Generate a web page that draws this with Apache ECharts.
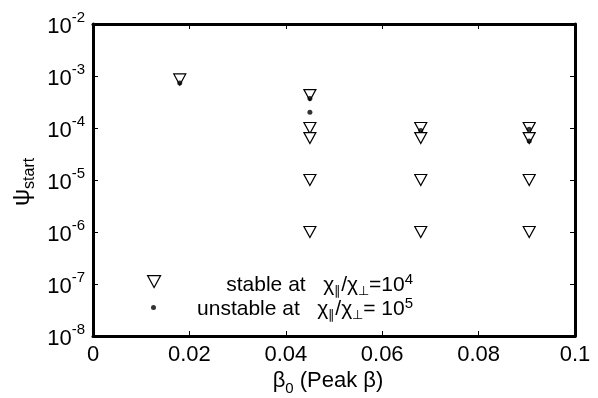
<!DOCTYPE html>
<html><head><meta charset="utf-8">
<script src="https://cdn.jsdelivr.net/npm/echarts@6/dist/echarts.min.js"></script>
<style>html,body{margin:0;padding:0;background:#fff}#c{width:598px;height:398px}</style>
</head><body><div id="c"></div>
<script>
// Data
const stableX = [0.018, 0.045, 0.045, 0.045, 0.045, 0.045, 0.068, 0.068, 0.068, 0.068, 0.0905, 0.0905, 0.0905, 0.0905];
const stableY = [8.6e-4, 4.3e-4, 1.0e-4, 6.4e-5, 1.0e-5, 1.0e-6, 1.0e-4, 6.4e-5, 1.0e-5, 1.0e-6, 1.0e-4, 6.4e-5, 1.0e-5, 1.0e-6];
const unstableX = [0.018, 0.045, 0.045, 0.068, 0.0905, 0.0905];
const unstableY = [7.3e-4, 3.7e-4, 2.0e-4, 9.0e-5, 9.5e-5, 5.6e-5];
const xTickLabels = ['0', '0.02', '0.04', '0.06', '0.08', '0.1'];
const yTickExponents = [-8, -7, -6, -5, -4, -3, -2];
const seriesNames = ['stable at χ∥/χ⊥=10⁴', 'unstable at χ∥/χ⊥= 10⁵'];

const FONT = 'Liberation Sans, Arial, Helvetica, sans-serif';
const chart = echarts.init(document.getElementById('c'), null, {renderer: 'canvas'});

const axisCommon = {
  axisLine: {show: true, onZero: false, lineStyle: {color: '#000', width: 3}},
  axisTick: {show: true, inside: true, length: 5, lineStyle: {color: '#000', width: 1}},
  splitLine: {show: false},
  minorTick: {show: false}
};

const legendRich = {
  a: {fontSize: 21, fontFamily: FONT, lineHeight: 26, verticalAlign: 'middle'},
  t: {fontSize: 13, fontFamily: FONT, lineHeight: 26, verticalAlign: 'bottom'},
  p: {fontSize: 15, fontFamily: FONT, lineHeight: 26, verticalAlign: 'top'}
};

const option = {
  backgroundColor: '#fff',
  animation: false,
  grid: {left: 93, right: 23, top: 24, bottom: 62, containLabel: false},
  xAxis: [
    Object.assign({}, axisCommon, {
      type: 'value', min: 0, max: 0.1, interval: 0.02, position: 'bottom',
      axisLabel: {
        color: '#000', fontFamily: FONT, fontSize: 22, margin: 8,
        formatter: function (v) { return xTickLabels[Math.round(v / 0.02)]; }
      }
    }),
    Object.assign({}, axisCommon, {
      type: 'value', min: 0, max: 0.1, interval: 0.02, position: 'top',
      axisLabel: {show: false}
    })
  ],
  yAxis: [
    Object.assign({}, axisCommon, {
      type: 'log', logBase: 10, min: 1e-8, max: 1e-2, position: 'left',
      axisLabel: {
        color: '#000', fontFamily: FONT, margin: 8,
        formatter: function (v) {
          const e = Math.round(Math.log10(v));
          if (yTickExponents.indexOf(e) < 0) return '';
          return '{b|10}{s|' + e + '}';
        },
        rich: {
          b: {fontSize: 22, fontFamily: FONT, color: '#000', lineHeight: 28, verticalAlign: 'bottom'},
          s: {fontSize: 15, fontFamily: FONT, color: '#000', lineHeight: 28, verticalAlign: 'top'}
        }
      }
    }),
    Object.assign({}, axisCommon, {
      type: 'log', logBase: 10, min: 1e-8, max: 1e-2, position: 'right',
      axisLabel: {show: false}
    })
  ],
  legend: [
    {
      data: [{name: seriesNames[0], icon: 'path://M0,0 L12,0 L6,11 Z'}],
      orient: 'vertical', left: 147, top: 275, padding: 0,
      itemWidth: 13, itemHeight: 12, formatter: function () { return ''; },
      selectedMode: false,
      itemStyle: {color: '#fff', borderColor: '#000', borderWidth: 1.2}
    },
    {
      data: [{name: seriesNames[1], icon: 'circle'}],
      orient: 'vertical', left: 151, top: 305, padding: 0,
      itemWidth: 5, itemHeight: 5, formatter: function () { return ''; },
      selectedMode: false
    }
  ],
  series: [
    {
      name: seriesNames[0], type: 'scatter', xAxisIndex: 0, yAxisIndex: 0,
      symbol: 'triangle', symbolRotate: 180, symbolSize: [12, 11],
      itemStyle: {color: '#fff', borderColor: '#000', borderWidth: 1.2, opacity: 1},
      data: stableX.map((x, i) => [x, stableY[i]]), z: 2
    },
    {
      name: seriesNames[1], type: 'scatter', xAxisIndex: 0, yAxisIndex: 0,
      symbol: 'circle', symbolSize: 5,
      itemStyle: {color: '#000'},
      data: unstableX.map((x, i) => [x, unstableY[i]]), z: 3
    }
  ],
  graphic: [
    {
      type: 'text', x: 328, y: 370,
      style: {
        text: '{a|β}{s|0}{a| (Peak β)}', fill: '#000', align: 'center',
        rich: {
          a: {fontSize: 22, fontFamily: FONT, lineHeight: 26, verticalAlign: 'top'},
          s: {fontSize: 15, fontFamily: FONT, lineHeight: 26, verticalAlign: 'bottom'}
        }
      }
    },
    {
      type: 'text', x: 10, y: 206, rotation: Math.PI / 2,
      style: {
        text: '{a|ψ}{s|start}', fill: '#000',
        rich: {
          a: {fontSize: 24, fontFamily: FONT, lineHeight: 28, verticalAlign: 'top'},
          s: {fontSize: 16, fontFamily: FONT, lineHeight: 28, verticalAlign: 'bottom'}
        }
      }
    },
    {
      type: 'text', x: 413, y: 272, style: {
        text: '{a|stable at   χ}{t|∥}{a|/χ}{t|⊥}{a|=10}{p|4}', align: 'right', fill: '#000',
        rich: legendRich
      }
    },
    {
      type: 'text', x: 413, y: 296, style: {
        text: '{a|unstable at   χ}{t|∥}{a|/χ}{t|⊥}{a|= 10}{p|5}', align: 'right', fill: '#000',
        rich: legendRich
      }
    }
  ]
};
chart.setOption(option);
</script></body></html>
